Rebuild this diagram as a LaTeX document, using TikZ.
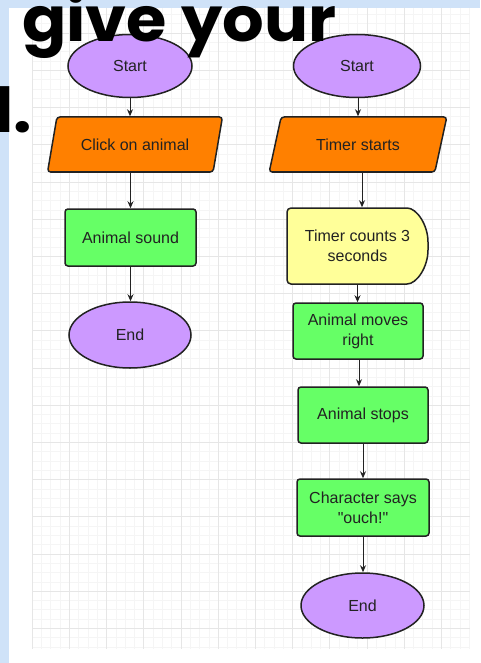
\documentclass[tikz,border=0pt]{standalone}
\usepackage{fontspec}
\setmainfont{Liberation Sans}
\newfontfamily\headfont{Poppins}
\usetikzlibrary{shapes.geometric,arrows.meta}
\definecolor{bluebg}{HTML}{CFE2F8}
\definecolor{gridminor}{HTML}{F5F5F5}
\definecolor{gridmajor}{HTML}{E6E6E6}
\definecolor{purplec}{HTML}{CC99FF}
\definecolor{orangec}{HTML}{FF8000}
\definecolor{greenc}{HTML}{66FF66}
\definecolor{yellowc}{HTML}{FFFF99}
\definecolor{inkc}{HTML}{222222}
\tikzset{
  base/.style={draw=inkc, line width=1.5pt, text=inkc, font=\fontsize{16}{20}\selectfont, align=center, inner sep=0pt},
  term/.style={base, ellipse, fill=purplec},
  iobox/.style={base, trapezium, trapezium left angle=61, trapezium right angle=119, trapezium stretches=true, fill=orangec, rounded corners=3pt},
  procbox/.style={base, rectangle, fill=greenc, rounded corners=3pt},
  delaytext/.style={base, draw=none, rectangle},
  arr/.style={draw=inkc, line width=1pt, -{Stealth[length=7pt,width=6pt]}},
  headtext/.style={inner sep=0pt, text=black, font=\headfont\bfseries\fontsize{62}{62}\selectfont, xscale=1.055},
}
\begin{document}
\begin{tikzpicture}[x=1pt,y=-1pt]
\useasboundingbox (0,0) rectangle (480,663);
% background panels
\fill[bluebg] (0,0) rectangle (480,663);
\fill[white] (9,8) rectangle (480,663);
% grid
\foreach \i in {0,...,47} \draw[gridminor, line width=0.4pt] ({32+9.3*\i},8) -- ({32+9.3*\i},649);
\foreach \j in {0,...,68} \draw[gridminor, line width=0.4pt] (32,{14.4+9.3*\j}) -- (470,{14.4+9.3*\j});
\foreach \i in {0,...,11} \draw[gridmajor, line width=0.6pt] ({32+37.2*\i},8) -- ({32+37.2*\i},649);
\foreach \j in {0,...,16} \draw[gridmajor, line width=0.6pt] (32,{33+37.2*\j}) -- (470,{33+37.2*\j});

% left flow
\node[term, minimum width=124pt, minimum height=63pt] (s1) at (130,66) {Start};
\node[iobox, minimum width=175pt, minimum height=55pt] (p1) at (135,144.5) {Click on animal};
\node[procbox, minimum width=131pt, minimum height=57pt] (r1) at (130.5,237.5) {Animal sound};
\node[term, minimum width=122pt, minimum height=66pt] (e1) at (130,335) {End};

% right flow
\node[term, minimum width=127pt, minimum height=63pt] (s2) at (357,66) {Start};
\node[iobox, minimum width=178pt, minimum height=55pt] (p2) at (358,144.5) {Timer starts};
\draw[draw=inkc, fill=yellowc, line width=1.5pt, rounded corners=4pt]
  (287,208) -- (403,208) .. controls (416.8,208) and (428,225) .. (428,246)
  .. controls (428,267) and (416.8,284) .. (403,284) -- (287,284) -- cycle;
\node[delaytext, minimum width=141pt, minimum height=76pt] (t2) at (357.5,246) {Timer counts 3\\seconds};
\node[procbox, minimum width=130pt, minimum height=56pt] (r2) at (358,331) {Animal moves\\right};
\node[procbox, minimum width=130pt, minimum height=56pt] (r3) at (363,415) {Animal stops};
\node[procbox, minimum width=132pt, minimum height=57pt] (r4) at (363,507.5) {Character says\\\textquotedbl ouch!\textquotedbl};
\node[term, minimum width=123pt, minimum height=65pt] (e2) at (362.5,605.5) {End};

% connectors
\draw[arr] (s1.south) -- (s1.south |- p1.north);
\draw[arr] (r1.north |- p1.south) -- (r1.north);
\draw[arr] (r1.south) -- (r1.south |- e1.north);
\draw[arr] (s2.south -| p2.north) -- (p2.north);
\draw[arr] ([xshift=4pt]p2.south) -- ([xshift=4pt]p2.south |- t2.north);
\draw[arr] (t2.south) -- (t2.south |- r2.north);
\draw[arr] ([xshift=1pt]r2.south) -- ([xshift=1pt]r2.south |- r3.north);
\draw[arr] (r3.south) -- (r3.south |- r4.north);
\draw[arr] (r4.south) -- (r4.south |- e2.north);

% overlaid heading text
\node[headtext, anchor=base west] (head) at (22,42) {give your};
\node[headtext, anchor=base east] (frag) at (32,133) {l.};
\end{tikzpicture}
\end{document}
